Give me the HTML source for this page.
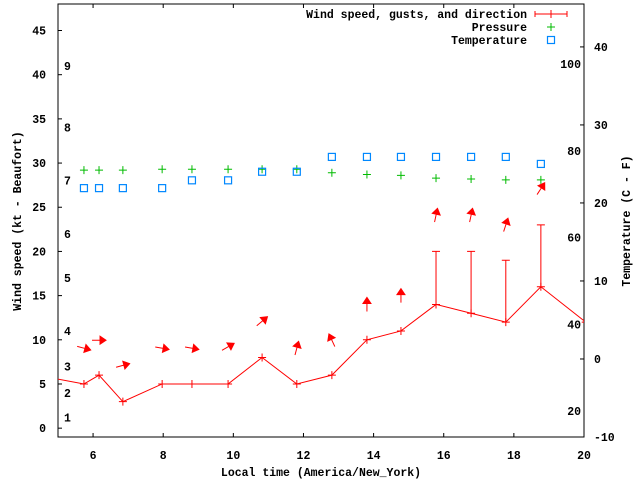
<!DOCTYPE html>
<html><head><meta charset="utf-8"><style>
body{margin:0;background:#fff}
svg text{font-family:"Liberation Mono",monospace;font-weight:bold;font-size:11.5px;fill:#000}
</style></head><body>
<svg width="640" height="480" xmlns="http://www.w3.org/2000/svg">
<defs><clipPath id="pc"><rect x="58" y="4" width="526" height="433"/></clipPath></defs>
<g id="axes"></g>
<g id="plot" clip-path="url(#pc)"></g>
<g id="legend"></g>
</svg>
<script>
const times=[4.8,5.74,6.17,6.85,7.97,8.82,9.85,10.82,11.81,12.81,13.81,14.78,15.78,16.78,17.77,18.77,20.05];
const wind=[5.7,5,6,3,5,5,5,8,5,6,10,11,14,13,12,16,12];
const gustTimes=[15.78,16.78,17.77,18.77];
const gusts=[20,20,19,23];
const ptTimes=[5.74,6.17,6.85,7.97,8.82,9.85,10.82,11.81,12.81,13.81,14.78,15.78,16.78,17.77,18.77];
const pressure=[29.2,29.2,29.2,29.3,29.3,29.3,29.3,29.3,28.9,28.7,28.6,28.3,28.2,28.1,28.1];
const temperature=[21.9,21.9,21.9,21.9,22.9,22.9,24,24,25.9,25.9,25.9,25.9,25.9,25.9,25];
const arrowLevel=[9.05,9.95,7.1,9.05,9.05,9.2,12.1,9.05,9.95,14,15,24.1,24.1,23,27.1];
const arrowAngle=[-15,0,15,-10,-10,30,40,75,115,90,90,78,78,72,57];
const xTicks=[6,8,10,12,14,16,18,20];
const yTicks=[0,5,10,15,20,25,30,35,40,45];
const y2Ticks=[-10,0,10,20,30,40];
const beaufort=[1,2,3,4,5,6,7,8,9];
const beaufortKt=[1.2,4,7,11,17,22,28,34,41];
const fahr=[20,40,60,80,100];

const L=58,R=584,T=4,B=437;
const X=t=>L+(t-5)/15*(R-L);
const Y=v=>B-(v+1)/49*(B-T);
const Y2=c=>B-(c+10)/55.5*(B-T);
const F2C=f=>(f-32)*5/9;
const NS="http://www.w3.org/2000/svg";
function mk(p,tag,a,txt){const e=document.createElementNS(NS,tag);for(const k in a)e.setAttribute(k,a[k]);if(txt!==undefined)e.textContent=txt;p.appendChild(e);return e;}
const ax=document.getElementById('axes'),pl=document.getElementById('plot'),lg=document.getElementById('legend');

let fr=mk(ax,'rect',{x:L,y:T,width:R-L,height:B-T,fill:'none',stroke:'#000','stroke-width':1});


xTicks.forEach(t=>{
 let l=mk(ax,'path',{d:`M${X(t)},${B}v-4M${X(t)},${T}v4`,stroke:'#000'});
 
 
 let s=mk(ax,'text',{x:X(t),y:B+22,'text-anchor':'middle'},t);
 
 
});
yTicks.forEach(v=>{
 let l=mk(ax,'path',{d:`M${L},${Y(v)}h4`,stroke:'#000'});
 
 
 let s=mk(ax,'text',{x:46,y:Y(v)+4,'text-anchor':'end'},v);
 
 
});
y2Ticks.forEach(c=>{
 let l=mk(ax,'path',{d:`M${R},${Y2(c)}h-4`,stroke:'#000'});
 
 
 let s=mk(ax,'text',{x:594,y:Y2(c)+4},c);
 
 
});
beaufort.forEach((b,i)=>{
 let s=mk(ax,'text',{x:64,y:Y(beaufortKt[i])+4},b);
 
 
});
fahr.forEach(f=>{
 let s=mk(ax,'text',{x:581,y:Y2(F2C(f))+4,'text-anchor':'end'},f);
 
 
});
let xt=mk(ax,'text',{x:321,y:476,'text-anchor':'middle'},'Local time (America/New_York)');


let yt=mk(ax,'text',{x:0,y:0,'text-anchor':'middle',transform:'translate(21,221) rotate(-90)'},'Wind speed (kt - Beaufort)');


let y2t=mk(ax,'text',{x:0,y:0,'text-anchor':'middle',transform:'translate(630,221) rotate(-90)'},'Temperature (C - F)');



// wind line
let d=times.map((t,i)=>(i?'L':'M')+X(t)+','+Y(wind[i])).join('');
let wl=mk(pl,'path',{d:d,fill:'none',stroke:'#f00','stroke-width':1});


times.forEach((t,i)=>{
 let p=mk(pl,'path',{d:`M${X(t)-4},${Y(wind[i])}h8M${X(t)},${Y(wind[i])-4}v8`,stroke:'#f00'});
 
 
});
gustTimes.forEach((t,i)=>{
 const w=wind[times.indexOf(t)];
 let g=mk(pl,'path',{d:`M${X(t)},${Y(w)}V${Y(gusts[i])}M${X(t)-4},${Y(gusts[i])}h8`,stroke:'#f00'});
 
 
});
ptTimes.forEach((t,i)=>{
 const cx=X(t),cy=Y(pressure[i]);
 let p=mk(pl,'path',{d:`M${cx-4},${cy}h8M${cx},${cy-4}v8`,stroke:'#0b0'});
 
 
 const ty=Y2(temperature[i]);
 let s=mk(pl,'rect',{x:cx-3.5,y:ty-3.5,width:7,height:7,fill:'none',stroke:'#08f','stroke-width':1.2});
 
 
 const a=arrowAngle[i]*Math.PI/180,ay=Y(arrowLevel[i]);
 const dx=Math.cos(a)*7,dy=-Math.sin(a)*7;
 const hx=cx+dx,hy=ay+dy,tx=cx-dx,ty2=ay-dy;
 const px=-dy/7*4,py=dx/7*4,bx=hx-dx/7*6,by=hy-dy/7*6;
 let ar=mk(pl,'path',{d:`M${tx},${ty2}L${bx},${by}M${hx},${hy}L${bx+px},${by+py}L${bx-px},${by-py}Z`,stroke:'#f00',fill:'#f00','stroke-width':1});
 
 
});

// legend
const legendLabels=['Wind speed, gusts, and direction','Pressure','Temperature'];
legendLabels.forEach((s,i)=>{
 let t=mk(lg,'text',{x:527,y:18+i*13,'text-anchor':'end'},s);
 
 
});
let l1=mk(lg,'path',{d:'M535,14h32M535,11v6M567,11v6M551,10v8',stroke:'#f00'});


let l2=mk(lg,'path',{d:'M547,27h8M551,23v8',stroke:'#0b0'});


let l3=mk(lg,'rect',{x:547.5,y:36.5,width:7,height:7,fill:'none',stroke:'#08f','stroke-width':1.2});


</script>
</body></html>
